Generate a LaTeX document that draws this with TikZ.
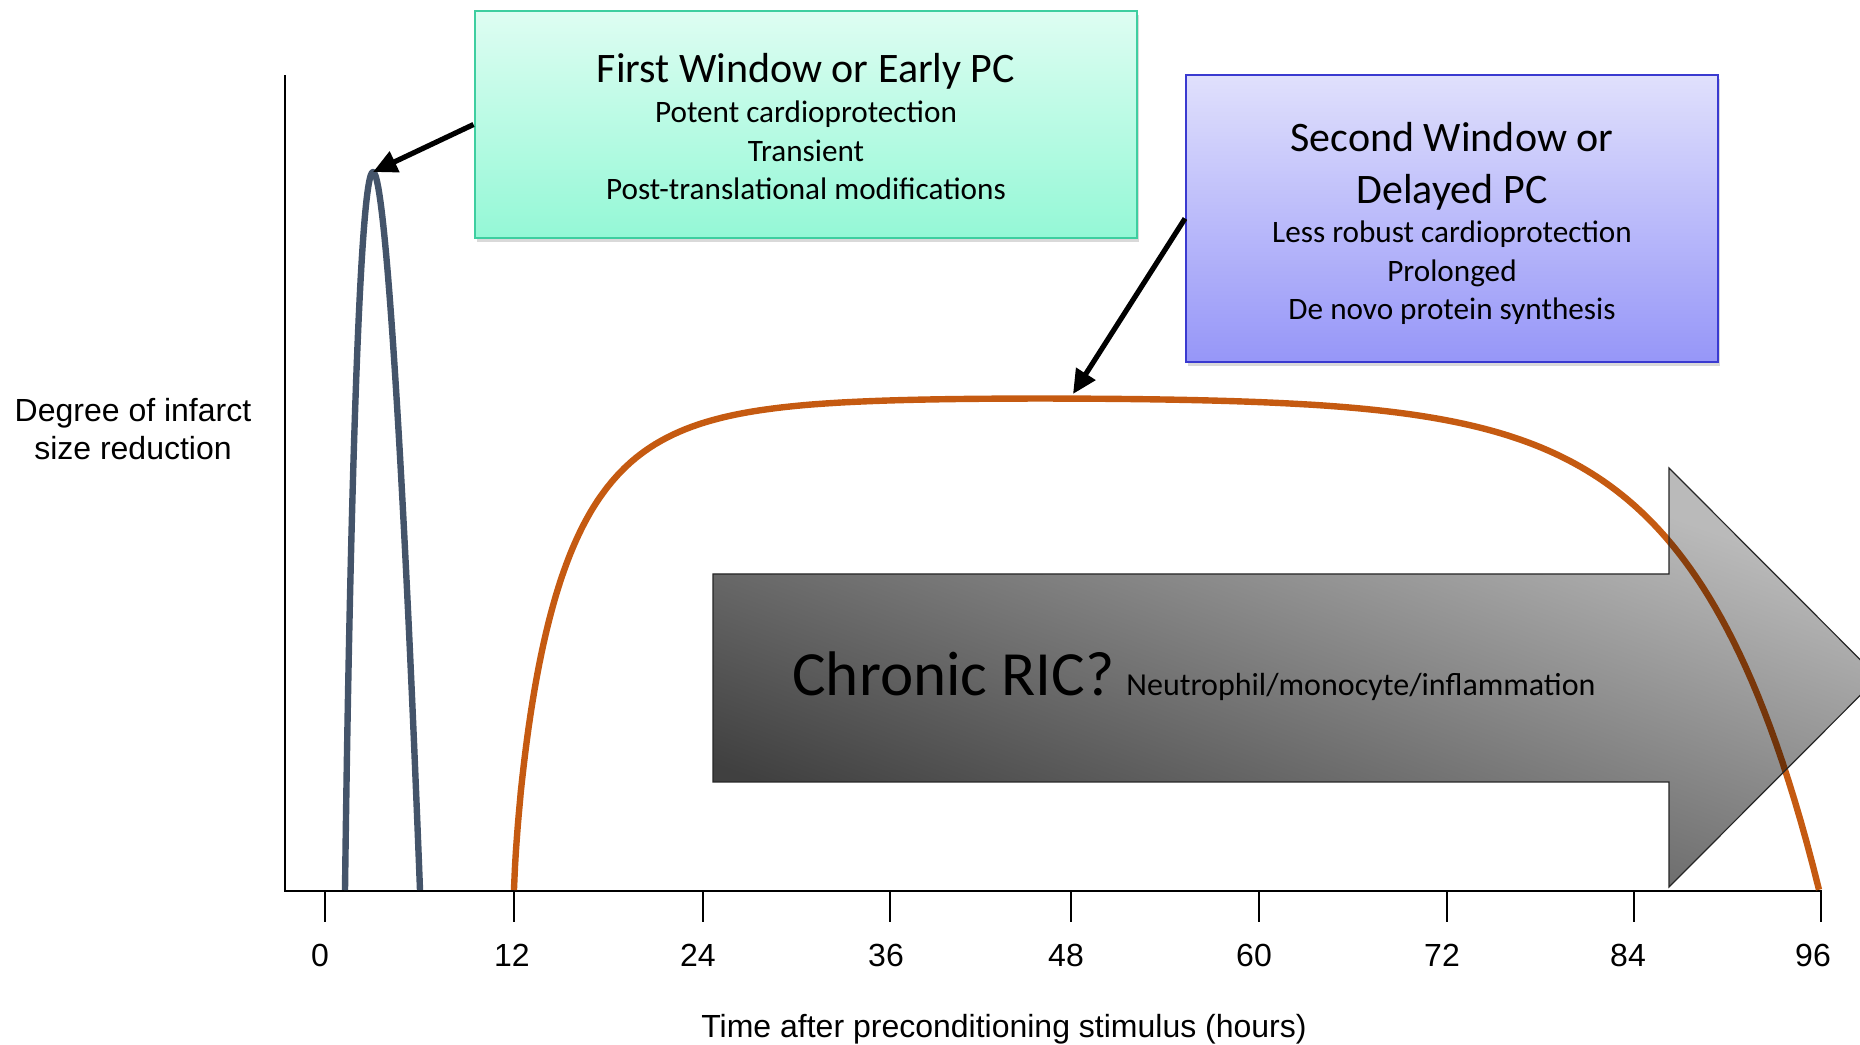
\documentclass[tikz,border=0pt]{standalone}
\usepackage{fontspec}
\setmainfont{Liberation Sans}
\newfontfamily\calib{Carlito}
\usetikzlibrary{arrows.meta,shadows,fadings}
\definecolor{mintTop}{RGB}{222,253,242}
\definecolor{mintBot}{RGB}{148,248,214}
\definecolor{mintLine}{RGB}{62,206,160}
\definecolor{lavTop}{RGB}{224,224,252}
\definecolor{lavBot}{RGB}{150,150,248}
\definecolor{lavLine}{RGB}{58,58,208}
\definecolor{peakBlue}{RGB}{68,84,106}
\definecolor{delayOrange}{RGB}{197,90,17}
\tikzfading[name=ricfade, bottom color=transparent!25, top color=transparent!73, shading angle=-45]
\begin{document}
\begin{tikzpicture}[x=0.5pt,y=-0.5pt,
  declare function={oy(\t)=890-493*(1-exp(-pow((\t-514)/47.3,0.78)))+7*exp((\t-1300)/122);},
  axisline/.style={line width=1.1pt,black},
  tickmark/.style={line width=0.8pt,black},
  arial/.style={font=\fontsize{16}{19}\selectfont,anchor=base,inner sep=0pt},
  curve/.style={line width=3.2pt,line join=round},
  pointer/.style={line width=2.6pt,-{Triangle[length=12pt,width=11pt]}},
  winbox/.style={rectangle,inner sep=0pt,line width=1pt,drop shadow={shadow xshift=1pt,shadow yshift=-2pt,opacity=0.3}},
  boxtitle/.style={font=\calib\fontsize{21}{25}\selectfont,anchor=base,inner sep=0pt},
  boxline/.style={font=\calib\fontsize{15.6}{19}\selectfont,anchor=base,inner sep=0pt}]
\useasboundingbox (0,0) rectangle (1860,1045);
\clip (0,0) rectangle (1860,1045);

% axes
\coordinate (ytop) at (285,75);
\coordinate (origin) at (285,891);
\coordinate (xend) at (1822,891);
\draw[axisline] (ytop) -- (origin) -- (xend);
\foreach \tx/\lx/\v in {325/320/0, 514/512/12, 703/698/24, 890/886/36, 1071/1066/48, 1259/1254/60, 1447/1442/72, 1634/1628/84, 1821/1813/96}{
  \draw[tickmark] (\tx,891) -- (\tx,922);
  \node[arial] (lab\v) at (\lx,966) {\v};
}
\node[arial] (ylab1) at (133,421) {Degree of infarct};
\node[arial] (ylab2) at (133,459) {size reduction};
\node[arial] (xlab) at (1004,1037) {Time after preconditioning stimulus (hours)};

% curves
\coordinate (peak1) at (373,172);
\coordinate (peak2) at (1073,394);
\draw[curve,peakBlue] (345,890) .. controls (350,500) and (360,172) .. (peak1)
   .. controls (386,172) and (405,500) .. (420,890);
\draw[curve,delayOrange] (514,890)
   -- plot[domain=514.05:600,samples=90] (\x,{oy(\x)})
   -- plot[domain=600:1819,samples=200] (\x,{oy(\x)});

% big translucent arrow
\path[fill=black,path fading=ricfade] (713,574) -- (1669,574) -- (1669,468) -- (1878,677.5)
   -- (1669,887) -- (1669,782) -- (713,782) -- cycle;
\draw[line width=0.6pt,black!85] (713,574) -- (1669,574) -- (1669,468) -- (1878,677.5)
   -- (1669,887) -- (1669,782) -- (713,782) -- cycle;
\node[font=\calib\fontsize{31.5}{38}\selectfont,anchor=base west,inner sep=0pt] (chronic) at (792,695) {Chronic RIC?};
\node[font=\calib\fontsize{16}{19}\selectfont,anchor=base west,inner sep=0pt] (neutro) at (1126,695) {Neutrophil/monocyte/inflammation};

% boxes
\node[winbox,draw=mintLine,top color=mintTop,bottom color=mintBot,minimum width=331pt,minimum height=113.5pt] (b1) at (805.5,124.5) {};
\node[winbox,draw=lavLine,top color=lavTop,bottom color=lavBot,minimum width=266pt,minimum height=143.5pt] (b2) at (1452,218.5) {};
\draw[pointer] (b1.west) -- (peak1);
\draw[pointer] (b2.west) -- (peak2);

\node[boxtitle] (t1a) at (806,82) {First Window or Early PC};
\node[boxline] (t1b) at (806,122) {Potent cardioprotection};
\node[boxline] (t1c) at (806,161) {Transient};
\node[boxline] (t1d) at (806,199) {Post-translational modifications};

\node[boxtitle] (t2a) at (1452,151) {Second Window or};
\node[boxtitle] (t2b) at (1452,203) {Delayed PC};
\node[boxline] (t2c) at (1452,242) {Less robust cardioprotection};
\node[boxline] (t2d) at (1452,281) {Prolonged};
\node[boxline] (t2e) at (1452,319) {De novo protein synthesis};
\end{tikzpicture}
\end{document}
